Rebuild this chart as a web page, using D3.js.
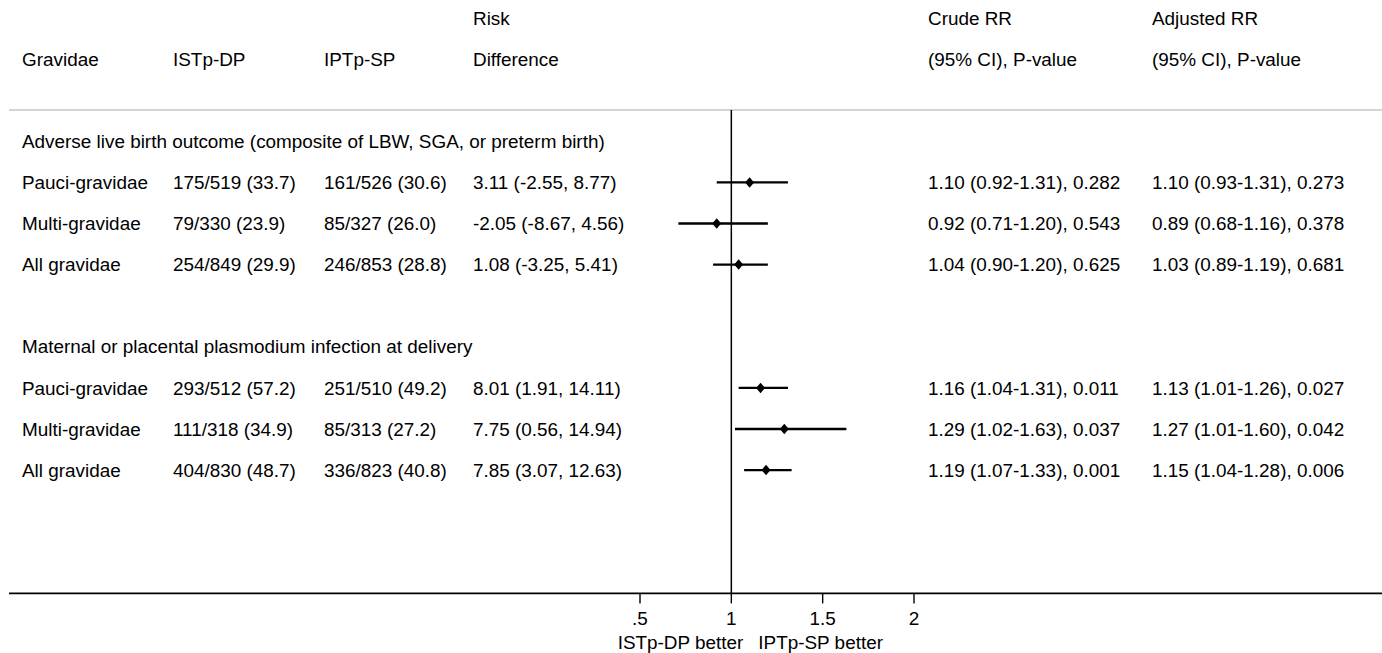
<!DOCTYPE html>
<html>
<head>
<meta charset="utf-8">
<script src="https://cdn.jsdelivr.net/npm/d3@7"></script>
<style>
  html, body { margin: 0; padding: 0; background: #fff; }
  svg { display: block; }
  text { font-family: "Liberation Sans", Arial, sans-serif; font-size: 18.9px; fill: #000; }
</style>
</head>
<body>
<svg id="chart" width="1382" height="653"></svg>
<script>
// ---- data ----
const headerTop = ["", "", "", "Risk", "Crude RR", "Adjusted RR"];
const headerBottom = ["Gravidae", "ISTp-DP", "IPTp-SP", "Difference", "(95% CI), P-value", "(95% CI), P-value"];
const sections = [
  "Adverse live birth outcome (composite of LBW, SGA, or preterm birth)",
  "Maternal or placental plasmodium infection at delivery"
];
const groups = ["Pauci-gravidae", "Multi-gravidae", "All gravidae",
                "Pauci-gravidae", "Multi-gravidae", "All gravidae"];
const istpDP = ["175/519 (33.7)", "79/330 (23.9)", "254/849 (29.9)",
                "293/512 (57.2)", "111/318 (34.9)", "404/830 (48.7)"];
const iptpSP = ["161/526 (30.6)", "85/327 (26.0)", "246/853 (28.8)",
                "251/510 (49.2)", "85/313 (27.2)", "336/823 (40.8)"];
const riskDiff = ["3.11 (-2.55, 8.77)", "-2.05 (-8.67, 4.56)", "1.08 (-3.25, 5.41)",
                  "8.01 (1.91, 14.11)", "7.75 (0.56, 14.94)", "7.85 (3.07, 12.63)"];
const crudeText = ["1.10 (0.92-1.31), 0.282", "0.92 (0.71-1.20), 0.543", "1.04 (0.90-1.20), 0.625",
                   "1.16 (1.04-1.31), 0.011", "1.29 (1.02-1.63), 0.037", "1.19 (1.07-1.33), 0.001"];
const adjText = ["1.10 (0.93-1.31), 0.273", "0.89 (0.68-1.16), 0.378", "1.03 (0.89-1.19), 0.681",
                 "1.13 (1.01-1.26), 0.027", "1.27 (1.01-1.60), 0.042", "1.15 (1.04-1.28), 0.006"];
const rr   = [1.10, 0.92, 1.04, 1.16, 1.29, 1.19];
const rrLo = [0.92, 0.71, 0.90, 1.04, 1.02, 1.07];
const rrHi = [1.31, 1.20, 1.20, 1.31, 1.63, 1.33];
const sectionRows = [3, 8];
const dataRows = [4, 5, 6, 9, 10, 11];
const tickValues = [0.5, 1, 1.5, 2];
const tickLabels = [".5", "1", "1.5", "2"];
const sideLabels = ["ISTp-DP better", "IPTp-SP better"];

// ---- layout ----
const svg = d3.select("#chart");
const W = 1382;
const y = d3.scaleLinear().domain([0, 14]).range([18, 593.4]);
const x = d3.scaleLinear().domain([0.5, 2]).range([640, 914]);
const colX = [22, 173, 324, 473, 928, 1152];
const dy = "0.35em";
const axisY = y(14);
const grayY = 110;

// header
svg.append("g").selectAll("text").data(headerTop).join("text")
  .attr("x", (d, i) => colX[i]).attr("y", y(0)).attr("dy", dy).text(d => d);
svg.append("g").selectAll("text").data(headerBottom).join("text")
  .attr("x", (d, i) => colX[i]).attr("y", y(1)).attr("dy", dy).text(d => d);

// gray separator
svg.append("line").attr("x1", 9).attr("x2", W).attr("y1", grayY).attr("y2", grayY)
  .attr("stroke", "#c6c6c6").attr("stroke-width", 1.6);

// section titles
svg.append("g").selectAll("text").data(sections).join("text")
  .attr("x", colX[0]).attr("y", (d, i) => y(sectionRows[i])).attr("dy", dy).text(d => d);

// table columns
const cols = [groups, istpDP, iptpSP, riskDiff, crudeText, adjText];
cols.forEach((col, ci) => {
  svg.append("g").selectAll("text").data(col).join("text")
    .attr("x", colX[ci]).attr("y", (d, i) => y(dataRows[i])).attr("dy", dy).text(d => d);
});

// reference line at 1
svg.append("line").attr("x1", x(1)).attr("x2", x(1)).attr("y1", grayY).attr("y2", axisY)
  .attr("stroke", "#000").attr("stroke-width", 1.5);

// CIs
svg.append("g").selectAll("line").data(rr).join("line")
  .attr("x1", (d, i) => x(rrLo[i])).attr("x2", (d, i) => x(rrHi[i]))
  .attr("y1", (d, i) => y(dataRows[i])).attr("y2", (d, i) => y(dataRows[i]))
  .attr("stroke", "#000").attr("stroke-width", 2.4);

// markers
const diamond = d3.symbol().type(d3.symbolDiamond2).size(60);
svg.append("g").selectAll("path").data(rr).join("path")
  .attr("d", diamond)
  .attr("transform", (d, i) => `translate(${x(d)},${y(dataRows[i])}) scale(0.92,1.08)`)
  .attr("fill", "#000");

// x axis
const axisG = svg.append("g").attr("transform", `translate(0,${axisY})`);
axisG.append("line").attr("x1", 9).attr("x2", W).attr("y1", 0).attr("y2", 0)
  .attr("stroke", "#000").attr("stroke-width", 1.6);
axisG.selectAll("line.tick").data(tickValues).join("line").attr("class", "tick")
  .attr("x1", d => x(d)).attr("x2", d => x(d)).attr("y1", 0).attr("y2", 10)
  .attr("stroke", "#000").attr("stroke-width", 1.4);
axisG.selectAll("text.tl").data(tickValues).join("text").attr("class", "tl")
  .attr("x", d => x(d)).attr("y", 25).attr("dy", dy).attr("text-anchor", "middle")
  .text((d, i) => tickLabels[i]);

// side labels
svg.append("text").attr("x", x(1) + 12).attr("y", 642).attr("dy", dy)
  .attr("text-anchor", "end").text(sideLabels[0]);
svg.append("text").attr("x", x(1) + 27).attr("y", 642).attr("dy", dy)
  .attr("text-anchor", "start").text(sideLabels[1]);
</script>
</body>
</html>
